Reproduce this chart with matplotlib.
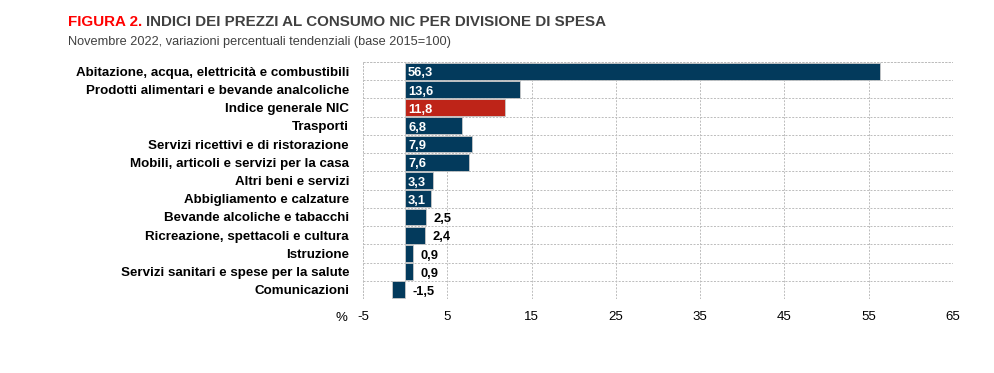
#!/usr/bin/env python3
# -*- coding: utf-8 -*-
"""
Indici dei prezzi al consumo NIC per divisione di spesa, Novembre 2022.
Horizontal bar chart with value labels.
"""

import matplotlib
matplotlib.use('Agg')
import matplotlib.pyplot as plt
from matplotlib.ticker import MultipleLocator, FixedLocator

plt.rcParams['font.family'] = ['Liberation Sans', 'DejaVu Sans']

# Data.
categories = ['Abitazione, acqua, elettricità e combustibili',
              'Prodotti alimentari e bevande analcoliche',
              'Indice generale NIC',
              'Trasporti',
              'Servizi ricettivi e di ristorazione',
              'Mobili, articoli e servizi per la casa',
              'Altri beni e servizi',
              'Abbigliamento e calzature',
              'Bevande alcoliche e tabacchi',
              'Ricreazione, spettacoli e cultura',
              'Istruzione',
              'Servizi sanitari e spese per la salute',
              'Comunicazioni']
values = [56.3, 13.6, 11.8, 6.8, 7.9, 7.6, 3.3, 3.1, 2.5, 2.4, 0.9, 0.9, -1.5]
highlight = 'Indice generale NIC'
xticks = [-5, 5, 15, 25, 35, 45, 55, 65]

navy = '#033a5c'
red = '#be2418'
grey = '#bcbcbc'
dash = (0, (2, 1.5))

fig = plt.figure(figsize=(9.94, 3.73), dpi=100)
ax = fig.add_axes([363/994, 1-299/373, 590/994, 237/373])

ypos = list(range(len(categories)))
colors = [red if c == highlight else navy for c in categories]
ax.barh(ypos, values, height=0.92, color=colors, edgecolor='#c8c8c8',
        linewidth=0.6, zorder=3)

# Value labels: inside the bar for larger values, outside for small ones.
for y, v in zip(ypos, values):
    txt = ('%.1f' % v).replace('.', ',')
    if v >= 3:
        ax.text(0.35, y + 0.12, txt, color='white', fontsize=9.3,
                fontweight='bold', ha='left', va='center', zorder=4)
    else:
        ax.text(max(v, 0) + 0.9, y + 0.12, txt, color='black', fontsize=9.3,
                fontweight='bold', ha='left', va='center', zorder=4)

ax.set_xlim(-5, 65)
ax.set_ylim(len(categories) - 0.5, -0.5)
ax.xaxis.set_major_locator(FixedLocator(xticks))
ax.set_xticklabels([str(t) for t in xticks], fontsize=9.5)
ax.set_yticks(ypos)
ax.set_yticklabels(categories, fontsize=9.6, fontweight='bold')
ax.yaxis.set_minor_locator(MultipleLocator(1, offset=0.5))
ax.tick_params(axis='both', which='both', length=0)
ax.tick_params(axis='x', pad=9)
ax.tick_params(axis='y', pad=10)

ax.grid(axis='x', which='major', color=grey, linestyle=dash, linewidth=0.7, zorder=0)
ax.grid(axis='y', which='minor', color=grey, linestyle=dash, linewidth=0.7, zorder=0)
ax.grid(axis='y', which='major', visible=False)
for s in ax.spines.values():
    s.set_visible(False)
for x in (-5, 65):
    ax.axvline(x, color=grey, linestyle=dash, linewidth=0.7, zorder=0)
for y in (-0.5, len(categories) - 0.5):
    ax.axhline(y, color=grey, linestyle=dash, linewidth=0.7, zorder=0)

fig.text(335/994, 1-318/373, '%', fontsize=9.5, ha='left', va='center')

# Title and subtitle.
t1 = fig.text(68/994, 1-22/373, 'FIGURA 2.', color='#ff0000', fontsize=10.9,
              fontweight='bold', ha='left', va='center')
fig.canvas.draw()
bb = t1.get_window_extent()
fig.text((bb.x1 + 4)/994, 1-22/373, 'INDICI DEI PREZZI AL CONSUMO NIC PER DIVISIONE DI SPESA',
         color='#404040', fontsize=10.9, fontweight='bold', ha='left', va='center')
fig.text(68/994, 1-42/373, 'Novembre 2022, variazioni percentuali tendenziali (base 2015=100)',
         color='#404040', fontsize=9.2, ha='left', va='center')

plt.savefig('out.png', dpi=100)
